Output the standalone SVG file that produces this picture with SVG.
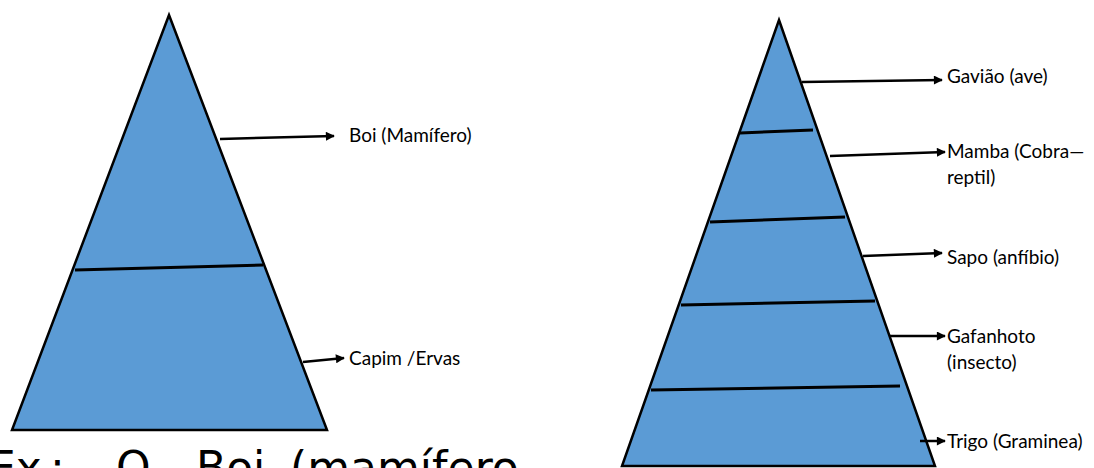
<svg xmlns="http://www.w3.org/2000/svg" width="1094" height="468" viewBox="0 0 1094 468">
<style>
.tri{fill:#5B9BD5;stroke:#000;stroke-width:2.5;stroke-linejoin:miter}
.div{stroke:#000;stroke-width:3;fill:none}
.arr{stroke:#000;stroke-width:2.5;fill:none;marker-end:url(#ah)}
.lbl{font-family:Lato,"Open Sans",sans-serif;font-size:19px;fill:#000}
.big{font-family:"DejaVu Sans",Verdana,sans-serif;font-size:44px;fill:#000}
</style>
<defs>
<marker id="ah" viewBox="0 0 10 10" refX="9" refY="5" markerWidth="4" markerHeight="3.6" orient="auto" markerUnits="strokeWidth">
<path d="M0,0 L10,5 L0,10 z" fill="#000"/>
</marker>
</defs>
<g id="pyramid-left">
<polygon class="tri" points="169,15 327,430 12,430"/>
<line class="div" x1="75" y1="270" x2="263" y2="265"/>
</g>
<g id="pyramid-right">
<polygon class="tri" points="779,20 935,466 622,466"/>
<line class="div" x1="740" y1="133" x2="813" y2="130"/>
<line class="div" x1="710" y1="222" x2="845" y2="217"/>
<line class="div" x1="681" y1="305" x2="875" y2="301"/>
<line class="div" x1="651" y1="390" x2="900" y2="386"/>
</g>
<g id="connectors">
<line class="arr" x1="220" y1="139" x2="334" y2="136"/>
<line class="arr" x1="303" y1="362" x2="344" y2="358"/>
<line class="arr" x1="802" y1="82" x2="942" y2="80"/>
<line class="arr" x1="830" y1="156" x2="945" y2="152"/>
<line class="arr" x1="863" y1="256" x2="942" y2="253"/>
<line class="arr" x1="889" y1="336" x2="945" y2="336"/>
<line class="arr" x1="920" y1="441" x2="945" y2="441"/>
</g>
<g id="labels-left">
<text class="lbl" x="349" y="142">Boi (Mamífero)</text>
<text class="lbl" x="349" y="365">Capim /Ervas</text>
</g>
<g id="labels-right">
<text class="lbl" x="947" y="83">Gavião (ave)</text>
<text class="lbl" x="947" y="158">Mamba (Cobra—</text>
<text class="lbl" x="947" y="184">reptil)</text>
<text class="lbl" x="947" y="264">Sapo (anfíbio)</text>
<text class="lbl" x="947" y="343">Gafanhoto</text>
<text class="lbl" x="947" y="369">(insecto)</text>
<text class="lbl" x="947" y="448">Trigo (Graminea)</text>
</g>
<g id="caption">
<text class="big" y="483"><tspan x="-12">Ex</tspan><tspan x="50">:</tspan><tspan x="116">O</tspan><tspan x="196">Boi</tspan><tspan x="290">(mamífero</tspan></text>
</g>
</svg>
